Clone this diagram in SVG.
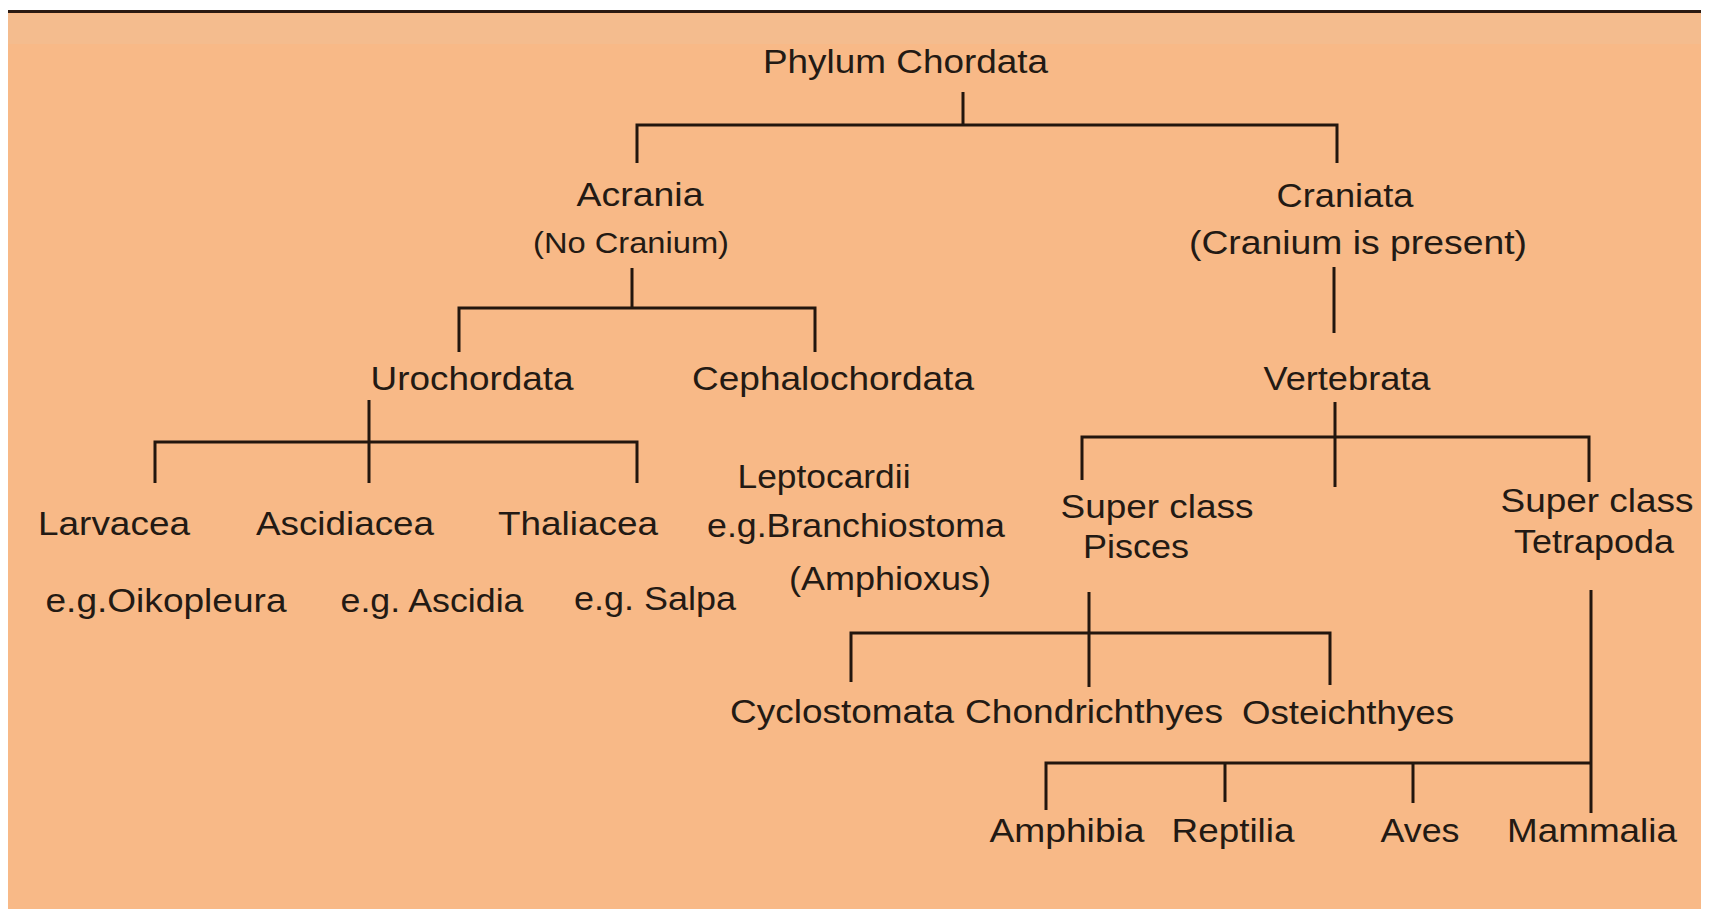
<svg xmlns="http://www.w3.org/2000/svg" width="1711" height="914" viewBox="0 0 1711 914">
<style>
.lbl{font-family:"Liberation Sans",Arial,sans-serif;font-size:33px;fill:#231a14;text-anchor:middle}
.sm{font-size:30px}
.ln{stroke:#22160e;stroke-width:3;fill:none;stroke-linecap:butt}
</style>
<rect x="0" y="0" width="1711" height="914" fill="#ffffff"/>
<rect x="8" y="12" width="1693" height="897" fill="#f8b987"/>
<rect x="8" y="14" width="1693" height="30" fill="#f4bc8e"/>
<line x1="8" y1="11.5" x2="1701" y2="11.5" stroke="#2a1a12" stroke-width="3"/>
<g id="connectors">
<path class="ln" d="M963 92V125M637 163V125H1337V163"/>
<path class="ln" d="M632 268V308M459 352V308H815V352"/>
<path class="ln" d="M1334 267V333"/>
<path class="ln" d="M369 400V483M155 483V442H637V483"/>
<path class="ln" d="M1335 402V487M1082 480V437H1589V482"/>
<path class="ln" d="M1089 592V687M851 682V633H1330V685"/>
<path class="ln" d="M1591 590V813M1046 810V763H1591M1225 763V802M1413 763V803"/>
</g>
<g id="phylum"><text class="lbl" x="905.5" y="73" textLength="285" lengthAdjust="spacingAndGlyphs">Phylum Chordata</text></g>
<g id="acrania"><text class="lbl" x="640" y="206" textLength="127" lengthAdjust="spacingAndGlyphs">Acrania</text><text class="lbl sm" x="631" y="253" textLength="196" lengthAdjust="spacingAndGlyphs">(No Cranium)</text></g>
<g id="craniata"><text class="lbl" x="1345" y="207" textLength="137" lengthAdjust="spacingAndGlyphs">Craniata</text><text class="lbl" x="1358" y="254" textLength="338" lengthAdjust="spacingAndGlyphs">(Cranium is present)</text></g>
<g id="urochordata"><text class="lbl" x="472" y="390" textLength="203" lengthAdjust="spacingAndGlyphs">Urochordata</text></g>
<g id="cephalochordata"><text class="lbl" x="833" y="390" textLength="282" lengthAdjust="spacingAndGlyphs">Cephalochordata</text></g>
<g id="vertebrata"><text class="lbl" x="1347" y="390" textLength="167" lengthAdjust="spacingAndGlyphs">Vertebrata</text></g>
<g id="larvacea"><text class="lbl" x="114" y="535" textLength="152" lengthAdjust="spacingAndGlyphs">Larvacea</text><text class="lbl" x="166" y="612" textLength="241" lengthAdjust="spacingAndGlyphs">e.g.Oikopleura</text></g>
<g id="ascidiacea"><text class="lbl" x="345" y="535" textLength="178" lengthAdjust="spacingAndGlyphs">Ascidiacea</text><text class="lbl" x="432" y="612" textLength="183" lengthAdjust="spacingAndGlyphs">e.g. Ascidia</text></g>
<g id="thaliacea"><text class="lbl" x="578" y="535" textLength="160" lengthAdjust="spacingAndGlyphs">Thaliacea</text><text class="lbl" x="655" y="610" textLength="162" lengthAdjust="spacingAndGlyphs">e.g. Salpa</text></g>
<g id="leptocardii"><text class="lbl" x="824" y="488" textLength="173" lengthAdjust="spacingAndGlyphs">Leptocardii</text><text class="lbl" x="856" y="537" textLength="298" lengthAdjust="spacingAndGlyphs">e.g.Branchiostoma</text><text class="lbl" x="890" y="590" textLength="202" lengthAdjust="spacingAndGlyphs">(Amphioxus)</text></g>
<g id="pisces"><text class="lbl" x="1157" y="518" textLength="193" lengthAdjust="spacingAndGlyphs">Super class</text><text class="lbl" x="1136" y="558" textLength="106" lengthAdjust="spacingAndGlyphs">Pisces</text></g>
<g id="tetrapoda"><text class="lbl" x="1597" y="512" textLength="193" lengthAdjust="spacingAndGlyphs">Super class</text><text class="lbl" x="1594" y="553" textLength="160" lengthAdjust="spacingAndGlyphs">Tetrapoda</text></g>
<g id="cyclostomata"><text class="lbl" x="842" y="723" textLength="224" lengthAdjust="spacingAndGlyphs">Cyclostomata</text></g>
<g id="chondrichthyes"><text class="lbl" x="1094" y="723" textLength="258" lengthAdjust="spacingAndGlyphs">Chondrichthyes</text></g>
<g id="osteichthyes"><text class="lbl" x="1348" y="724" textLength="212" lengthAdjust="spacingAndGlyphs">Osteichthyes</text></g>
<g id="amphibia"><text class="lbl" x="1067" y="842" textLength="155" lengthAdjust="spacingAndGlyphs">Amphibia</text></g>
<g id="reptilia"><text class="lbl" x="1233" y="842" textLength="123" lengthAdjust="spacingAndGlyphs">Reptilia</text></g>
<g id="aves"><text class="lbl" x="1420" y="842" textLength="79" lengthAdjust="spacingAndGlyphs">Aves</text></g>
<g id="mammalia"><text class="lbl" x="1592" y="842" textLength="170" lengthAdjust="spacingAndGlyphs">Mammalia</text></g>
</svg>
